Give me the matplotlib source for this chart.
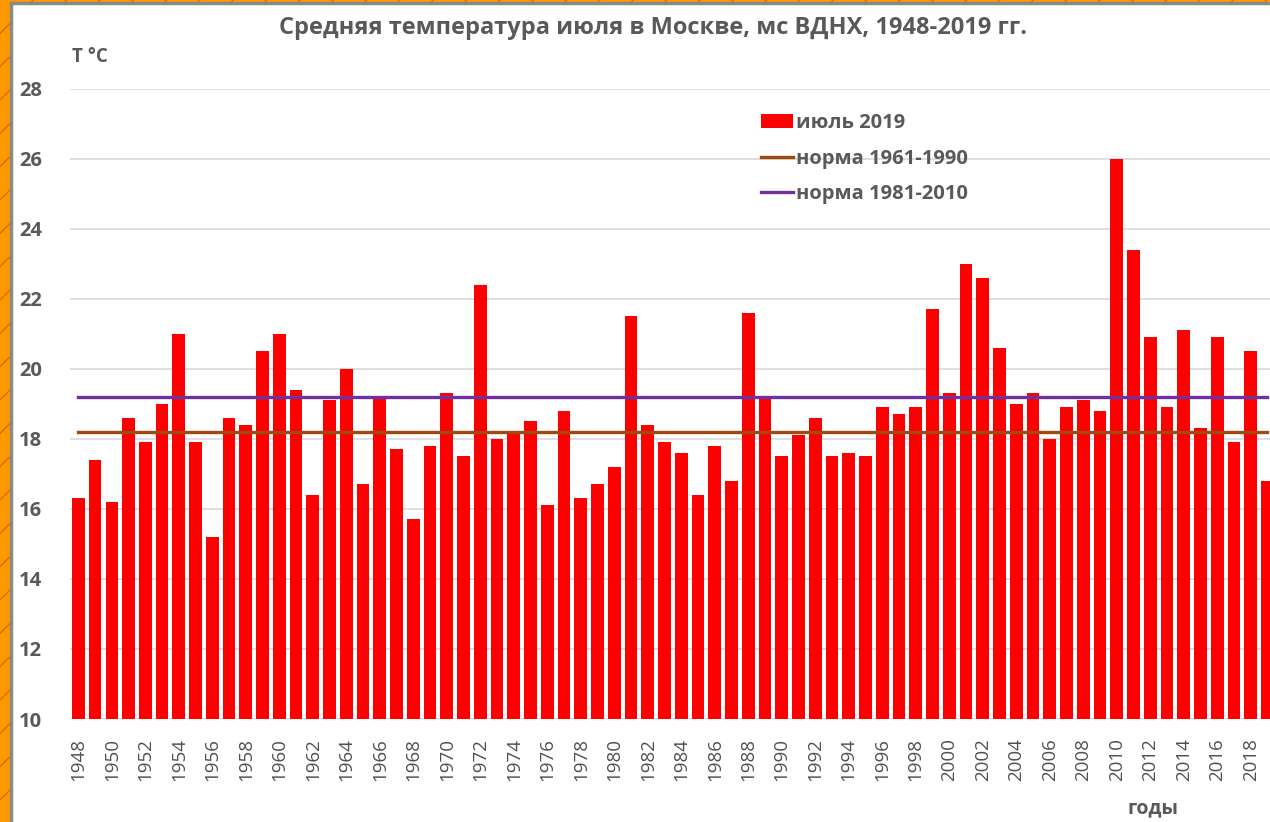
import numpy as np
import matplotlib.pyplot as plt
from matplotlib.patches import Rectangle

# ---------------------------------------------------------------------------
# Data: mean July temperature, Moscow VDNKh station
# ---------------------------------------------------------------------------
YEARS = np.arange(1948, 2020)
JULY_T = [
    16.3, 17.4, 16.2, 18.6, 17.9, 19.0, 21.0, 17.9, 15.2, 18.6,   # 1948-1957
    18.4, 20.5, 21.0, 19.4, 16.4, 19.1, 20.0, 16.7, 19.2, 17.7,   # 1958-1967
    15.7, 17.8, 19.3, 17.5, 22.4, 18.0, 18.2, 18.5, 16.1, 18.8,   # 1968-1977
    16.3, 16.7, 17.2, 21.5, 18.4, 17.9, 17.6, 16.4, 17.8, 16.8,   # 1978-1987
    21.6, 19.2, 17.5, 18.1, 18.6, 17.5, 17.6, 17.5, 18.9, 18.7,   # 1988-1997
    18.9, 21.7, 19.3, 23.0, 22.6, 20.6, 19.0, 19.3, 18.0, 18.9,   # 1998-2007
    19.1, 18.8, 26.0, 23.4, 20.9, 18.9, 21.1, 18.3, 20.9, 17.9,   # 2008-2017
    20.5, 16.8,                                                   # 2018-2019
]
NORM_1961_1990 = 18.2
NORM_1981_2010 = 19.2

TICK_YEARS = YEARS[::2]
Y_TICKS = np.arange(10, 29, 2)

TEXT_GRAY = "#595959"
FONT = ["Open Sans", "DejaVu Sans"]
plt.rcParams["font.family"] = FONT

W, H = 1270, 822
fig = plt.figure(figsize=(W / 100, H / 100), dpi=100)
fig.patch.set_facecolor("#FF9900")

# hatched orange frame + white chart area
frame = Rectangle((0, 0), 1, 1, transform=fig.transFigure, facecolor="#FF9900",
                  edgecolor="#D07000", hatch="/", linewidth=0, zorder=-3)
fig.patches.append(frame)
inner = Rectangle((11 / W, -0.01), 1.0, (H - 3) / H + 0.01, transform=fig.transFigure,
                  facecolor="white", edgecolor="#8a8a8a", linewidth=2.5, zorder=-2)
fig.patches.append(inner)

ax = fig.add_axes([70 / W, (H - 719) / H, 1200 / W, 630 / H])
ax.set_facecolor("none")

bars = ax.bar(YEARS, JULY_T, width=0.76, color="#FF0000", zorder=2,
              label="июль 2019")
l1, = ax.plot(YEARS, [NORM_1961_1990] * len(YEARS), color="#9E4A10", linewidth=2.4,
              zorder=3, label="норма 1961-1990")
l2, = ax.plot(YEARS, [NORM_1981_2010] * len(YEARS), color="#7030A0", linewidth=2.4,
              zorder=3, label="норма 1981-2010")

ax.set_xlim(1947.5, 2019.15)
ax.set_ylim(10, 28)
ax.set_yticks(Y_TICKS)
ax.set_xticks(TICK_YEARS)
ax.set_xticklabels([str(y) for y in TICK_YEARS], rotation=90)
ax.grid(axis="y", color="#d9d9d9", linewidth=1.2, zorder=0)
ax.set_axisbelow(True)
for s in ax.spines.values():
    s.set_visible(False)
ax.tick_params(length=0)
ax.tick_params(axis="y", pad=20, labelsize=14.5, labelcolor=TEXT_GRAY)
ax.tick_params(axis="x", pad=14, labelsize=13.5, labelcolor="#505050")
for lbl in ax.get_yticklabels():
    lbl.set_fontweight("bold")

leg = ax.legend(handles=[bars, l1, l2], loc="upper left",
                bbox_to_anchor=((753 - 70) / 1200, (719 - 105) / 630),
                frameon=False, handlelength=1.6, handletextpad=0.12, labelspacing=0.78,
                borderaxespad=0, prop={"family": FONT, "weight": "bold", "size": 14.5})
for t in leg.get_texts():
    t.set_color(TEXT_GRAY)

fig.text(653 / W, 1 - 28 / H, "Средняя температура июля в Москве, мс ВДНХ, 1948-2019 гг.",
         ha="center", va="center", fontsize=17, fontweight="bold", color=TEXT_GRAY)
fig.text(72 / W, 1 - 57 / H, "T °C", ha="left", va="center", fontsize=13.5,
         fontweight="bold", color=TEXT_GRAY)
fig.text(1153 / W, 1 - 808 / H, "годы", ha="center", va="center", fontsize=14,
         fontweight="bold", color=TEXT_GRAY)

fig.savefig("out.png", dpi=100)
